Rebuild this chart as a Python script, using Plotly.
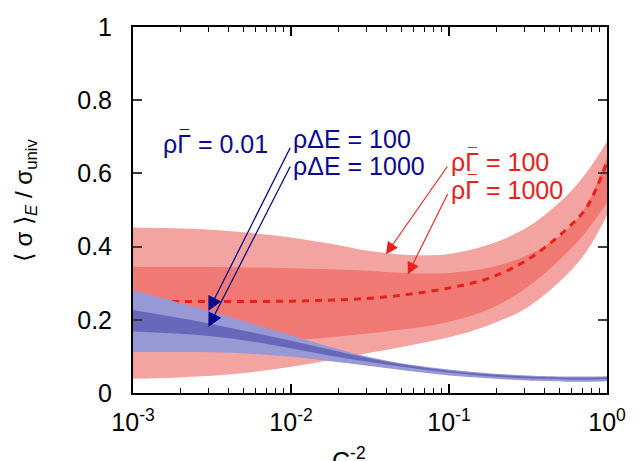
import plotly.graph_objects as go

# x values (C^-2)
c2 = [1e-3, 1.778e-3, 3.162e-3, 5.623e-3, 1e-2, 1.778e-2, 3.162e-2, 5.623e-2,
      1e-1, 0.1778, 0.3162, 0.5623, 0.75, 1.0]

# red band (rho Gamma = 100 / 1000)
red_outer_upper = [0.452, 0.450, 0.446, 0.437, 0.425, 0.408, 0.388, 0.377, 0.380, 0.405, 0.454, 0.542, 0.605, 0.687]
red_inner_upper = [0.345, 0.344, 0.344, 0.343, 0.341, 0.338, 0.334, 0.327, 0.328, 0.342, 0.377, 0.447, 0.518, 0.645]
red_mean        = [0.250, 0.250, 0.250, 0.250, 0.251, 0.254, 0.259, 0.270, 0.287, 0.313, 0.365, 0.450, 0.510, 0.632]
red_inner_lower = [0.125, 0.127, 0.130, 0.136, 0.143, 0.152, 0.163, 0.176, 0.195, 0.228, 0.290, 0.385, 0.445, 0.520]
red_outer_lower = [0.039, 0.042, 0.047, 0.057, 0.072, 0.090, 0.110, 0.130, 0.152, 0.185, 0.235, 0.325, 0.390, 0.485]

# blue band (rho Gamma = 0.01)
blue_outer_upper = [0.281, 0.252, 0.222, 0.190, 0.158, 0.126, 0.098, 0.078, 0.064, 0.054, 0.048, 0.045, 0.045, 0.046]
blue_inner_upper = [0.227, 0.208, 0.188, 0.166, 0.143, 0.118, 0.094, 0.075, 0.061, 0.051, 0.045, 0.042, 0.042, 0.043]
blue_inner_lower = [0.168, 0.163, 0.155, 0.141, 0.122, 0.102, 0.085, 0.069, 0.056, 0.046, 0.040, 0.037, 0.037, 0.038]
blue_outer_lower = [0.112, 0.112, 0.111, 0.107, 0.099, 0.087, 0.074, 0.060, 0.048, 0.040, 0.034, 0.031, 0.031, 0.032]

x_tickvals = [1e-3, 1e-2, 1e-1, 1]
x_ticktext = ["10<sup>-3</sup>", "10<sup>-2</sup>", "10<sup>-1</sup>", "10<sup>0</sup>"]
y_tickvals = [0, 0.2, 0.4, 0.6, 0.8, 1.0]
y_ticktext = ["0", "0.2", "0.4", "0.6", "0.8", "1"]
x_minor = [k * 10 ** e for e in (-3, -2, -1) for k in range(2, 10)]

LIGHT_RED = "rgb(244,164,160)"
DARK_RED = "rgb(240,122,115)"
LIGHT_BLUE = "rgb(152,152,212)"
DARK_BLUE = "rgb(103,103,187)"
NAVY = "rgb(10,10,140)"
RED = "rgb(232,32,26)"

fig = go.Figure()

def band(lower, upper, color):
    fig.add_trace(go.Scatter(x=c2, y=lower, mode="lines", line=dict(width=0, shape="spline"),
                             showlegend=False, hoverinfo="skip"))
    fig.add_trace(go.Scatter(x=c2, y=upper, mode="lines", line=dict(width=0, shape="spline"),
                             fill="tonexty", fillcolor=color, showlegend=False, hoverinfo="skip"))

band(red_outer_lower, red_outer_upper, LIGHT_RED)
band(red_inner_lower, red_inner_upper, DARK_RED)
fig.add_trace(go.Scatter(x=c2, y=red_mean, mode="lines",
                         line=dict(color=RED, width=3, dash="7px,6px", shape="spline"),
                         showlegend=False))
band(blue_outer_lower, blue_outer_upper, LIGHT_BLUE)
band(blue_inner_lower, blue_inner_upper, DARK_BLUE)

FONT = "Liberation Sans, Arial, sans-serif"
anns = []

def label(x, y, text, color, gamma_bar=False):
    anns.append(dict(x=x, y=y, xref="x", yref="y", text=text, showarrow=False,
                     xanchor="left", yanchor="middle",
                     font=dict(size=25, color=color, family=FONT)))
    if gamma_bar:
        # bar over the Gamma
        anns.append(dict(x=x, y=y, xref="x", yref="y", text="¯", showarrow=False,
                         xanchor="center", yanchor="middle", xshift=23, yshift=8,
                         font=dict(size=16, color=color, family=FONT)))

def arrow(x0, y0, x1, y1, color, width):
    anns.append(dict(x=x1, y=y1, ax=x0, ay=y0, xref="x", yref="y", axref="x", ayref="y",
                     text="", showarrow=True, arrowhead=2, arrowsize=2.2, arrowwidth=width,
                     arrowcolor=color, standoff=0))

label(-2.825, 0.680, "ρΓ = 0.01", NAVY, True)
label(-2.0, 0.694, "ρΔE = 100", NAVY)
label(-2.0, 0.619, "ρΔE = 1000", NAVY)
label(-0.998, 0.631, "ρΓ = 100", RED, True)
label(-0.998, 0.556, "ρΓ = 1000", RED, True)

arrow(-2.0, 0.674, -2.523, 0.224, NAVY, 1.3)
arrow(-2.0, 0.623, -2.523, 0.180, NAVY, 1.3)
arrow(-1.004, 0.623, -1.399, 0.379, RED, 1.1)
arrow(-1.004, 0.548, -1.261, 0.324, RED, 1.1)

# axis titles
anns.append(dict(x=0.5 - 21 / 474, y=-0.13, xref="paper", yref="paper", text="C<sup>-2</sup>",
                 showarrow=False, xanchor="center", yanchor="top",
                 font=dict(size=25, color="black", family=FONT)))
anns.append(dict(x=-0.228, y=0.527, xref="paper", yref="paper",
                 text="⟨ σ ⟩<sub><i>E</i></sub> / σ<sub>univ</sub>",
                 showarrow=False, textangle=-90, xanchor="center", yanchor="middle",
                 font=dict(size=24, color="black", family=FONT)))

fig.update_layout(
    width=633, height=453,
    margin=dict(l=125, r=34, t=5, b=68),
    plot_bgcolor="white", paper_bgcolor="white",
    font=dict(family=FONT, size=25, color="black"),
    annotations=anns,
    showlegend=False,
)
fig.update_xaxes(type="log", range=[-3, 0], tickmode="array", tickvals=x_tickvals, ticktext=x_ticktext,
                 ticks="inside", ticklen=9, tickwidth=1.5, tickcolor="black",
                 showline=True, linewidth=2, linecolor="black", mirror="allticks",
                 showgrid=False, zeroline=False, ticklabelstandoff=6, ticklabeloverflow="allow",
                 minor=dict(tickmode="array", tickvals=x_minor, ticks="inside", ticklen=5,
                            tickwidth=1, tickcolor="black", showgrid=False))
fig.update_yaxes(range=[0, 1], tickmode="array", tickvals=y_tickvals, ticktext=y_ticktext,
                 ticks="inside", ticklen=9, tickwidth=1.5, tickcolor="rgb(60,60,60)",
                 showline=True, linewidth=2, linecolor="black", mirror="allticks",
                 showgrid=False, zeroline=False, ticklabelstandoff=14, ticklabeloverflow="allow")

fig.write_html("out.html")
